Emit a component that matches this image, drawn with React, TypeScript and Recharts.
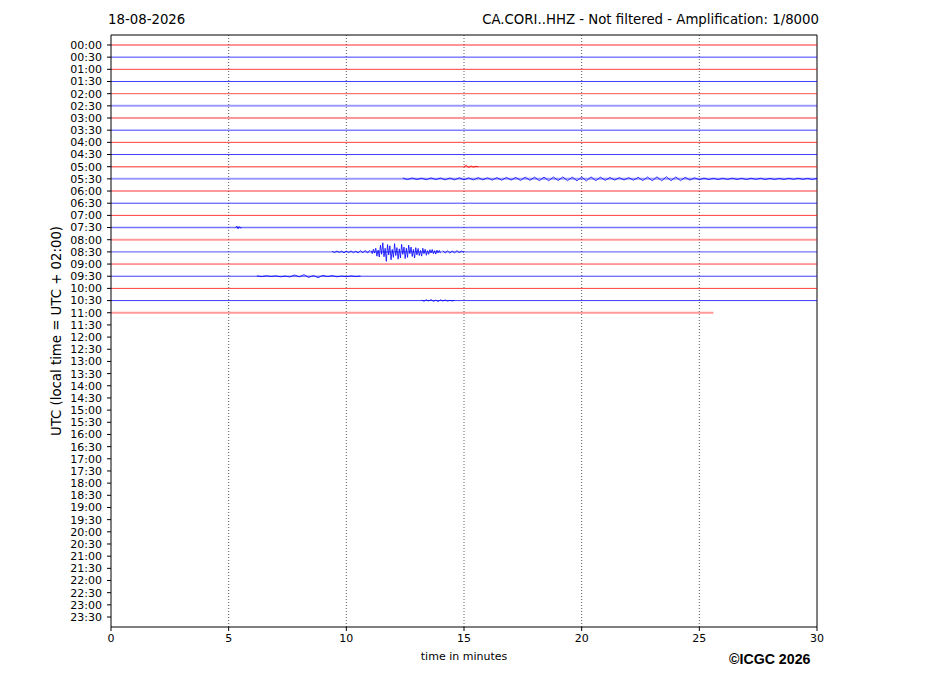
import React from "react";
import { LineChart, Line, XAxis, YAxis, ReferenceLine } from "recharts";

// half-hour row labels (one trace per row)
const rowLabels = [
  "00:00", "00:30", "01:00", "01:30", "02:00", "02:30", "03:00", "03:30",
  "04:00", "04:30", "05:00", "05:30", "06:00", "06:30", "07:00", "07:30",
  "08:00", "08:30", "09:00", "09:30", "10:00", "10:30", "11:00", "11:30",
  "12:00", "12:30", "13:00", "13:30", "14:00", "14:30", "15:00", "15:30",
  "16:00", "16:30", "17:00", "17:30", "18:00", "18:30", "19:00", "19:30",
  "20:00", "20:30", "21:00", "21:30", "22:00", "22:30", "23:00", "23:30",
];
const minuteTicks = [0, 5, 10, 15, 20, 25, 30];

// minute at which each recorded row stops (rows 0..22 have data)
const traceEnds = [
  30, 30, 30, 30, 30, 30, 30, 30, 30, 30, 30, 30,
  30, 30, 30, 30, 30, 30, 30, 30, 30, 30, 25.6,
];
// background noise level per row: 0 quiet, 1 light, 2 noisy
const traceNoise = [1, 0, 0, 0, 1, 2, 1, 0, 0, 0, 1, 2, 2, 0, 0, 1, 2, 1, 0, 0, 0, 0, 2];

// event wiggles, amplitudes in row units (1 row = 30 min trace spacing)
const quake0830Pre = [0.05, -0.06, 0.07, -0.05, 0.06, -0.08, 0.07, -0.06, 0.08, -0.07, 0.06, -0.09, 0.1, -0.08, 0.12, -0.1, 0.14];
const quake0830Main = [
  0.1, -0.14, 0.22, -0.1, 0.3, -0.35, 0.15, -0.42, 0.55, -0.2,
  0.75, -0.4, 0.3, -0.78, 0.6, -0.25, 0.5, -0.65, 0.2, -0.45,
  0.68, -0.3, 0.35, -0.6, 0.25, -0.5, 0.62, -0.2, 0.4, -0.55,
  0.3, -0.45, 0.55, -0.15, 0.4, -0.38, 0.2, -0.5, 0.35, -0.25,
  0.28, -0.3, 0.12, -0.35, 0.3, -0.15, 0.22, -0.28, 0.1, -0.2,
  0.18, -0.08, 0.2, -0.15, 0.1, -0.18, 0.14, -0.08, 0.12, -0.1,
];
const quake0830Tail = [0.1, -0.09, 0.08, -0.1, 0.07, -0.08, 0.1, -0.06, 0.07, -0.05];
const event0930 = [0.03, -0.03, 0.04, -0.02, 0.03, -0.05, 0.02, -0.06, 0.1, -0.05, 0.13, -0.1, 0.06, -0.12, 0.07, -0.03, 0.05, -0.05, 0.02, -0.04, 0.03, -0.02, 0.02];
const event1030 = [0.03, -0.05, 0.06, -0.03, 0.08, -0.06, 0.04, -0.08, 0.06, -0.03, 0.05, -0.04, 0.02, -0.03, 0.02];
const spike0730 = [0, 0.12, -0.1, 0.08, -0.04, 0];
const blip0500 = [0, 0.12, -0.08, 0.06, -0.04, 0.03, 0];
const swell0530 = [
  0.06, -0.06, 0.07, -0.05, 0.06, -0.07, 0.08, -0.06, 0.07,
  -0.08, 0.07, -0.08, 0.09, -0.08, 0.08, -0.09, 0.1, -0.08, 0.09,
  -0.1, 0.1, -0.11, 0.12, -0.1, 0.12, -0.13, 0.14, -0.12, 0.14,
  -0.15, 0.14, -0.16, 0.15, -0.14, 0.16, -0.15, 0.14, -0.16, 0.15,
  -0.17, 0.16, -0.15, 0.14, -0.12, 0.11, -0.1, 0.1, -0.09, 0.1,
  -0.11, 0.12, -0.14, 0.15, -0.16, 0.17, -0.16, 0.17, -0.15, 0.16,
  -0.15, 0.13, -0.1, 0.08, -0.07, 0.06, -0.06, 0.05, -0.06, 0.05,
  -0.05, 0.06, -0.05, 0.05, -0.06, 0.05, -0.04, 0.05, -0.05, 0.04,
  -0.05, 0.04, -0.05, 0.05, -0.04, 0.05, -0.04, 0.04, -0.05, 0.04,
];

const events = [
  { row: 17, start: 9.4, step: 0.1, values: quake0830Pre },
  { row: 17, start: 11.05, step: 0.05, values: quake0830Main },
  { row: 17, start: 14.1, step: 0.1, values: quake0830Tail },
  { row: 19, start: 6.2, step: 0.2, values: event0930 },
  { row: 21, start: 13.2, step: 0.1, values: event1030 },
  { row: 15, start: 5.3, step: 0.05, values: spike0730 },
  { row: 10, start: 15.0, step: 0.1, values: blip0500 },
  { row: 11, start: 12.4, step: 0.2, values: swell0530 },
];

const rowColor = (i: number) => (i % 2 === 0 ? "#ff0000" : "#0000ff");
const noiseWidth = [0.9, 1.4, 2];
const noiseOpacity = [0.85, 0.55, 0.4];

const font = "'DejaVu Sans', sans-serif";

export default function App() {
  return (
    <div style={{ position: "absolute", left: 0, top: 0, width: 927, height: 696, background: "#fff", fontFamily: font }}>
      <LineChart width={927} height={696} margin={{ top: 35, right: 110, bottom: 39, left: 0 }}>
        <XAxis
          type="number"
          dataKey="t"
          domain={[0, 30]}
          ticks={minuteTicks}
          allowDataOverflow
          height={30}
          tickSize={4}
          tickMargin={3}
          stroke="#000"
          tick={{ fontSize: 11, fill: "#000", fontFamily: font }}
        />
        <YAxis
          type="number"
          dataKey="y"
          reversed
          domain={[-0.82, 47.82]}
          ticks={rowLabels.map((_, i) => i)}
          tickFormatter={(v: number) => rowLabels[v] ?? ""}
          interval={0}
          allowDataOverflow
          width={111}
          tickSize={4}
          tickMargin={5}
          stroke="#000"
          tick={{ fontSize: 11, fill: "#000", fontFamily: font }}
        />
        {[5, 10, 15, 20, 25].map((m) => (
          <ReferenceLine key={m} x={m} stroke="#333" strokeWidth={0.8} strokeDasharray="1 2" />
        ))}
        <ReferenceLine y={-0.82} stroke="#000" strokeWidth={1} />
        <ReferenceLine x={30} stroke="#000" strokeWidth={1} />
        {traceEnds.map((end, i) => (
          <Line
            key={"r" + i}
            data={[{ t: 0, y: i }, { t: end, y: i }]}
            dataKey="y"
            type="linear"
            stroke={rowColor(i)}
            strokeWidth={noiseWidth[traceNoise[i]]}
            strokeOpacity={noiseOpacity[traceNoise[i]]}
            dot={false}
            isAnimationActive={false}
          />
        ))}
        {events.map((ev, k) => (
          <Line
            key={"e" + k}
            data={ev.values.map((v, j) => ({ t: ev.start + j * ev.step, y: ev.row - v }))}
            dataKey="y"
            type="linear"
            stroke={rowColor(ev.row)}
            strokeWidth={0.8}
            dot={false}
            isAnimationActive={false}
          />
        ))}
      </LineChart>
      <div style={{ position: "absolute", left: 108, top: 12, fontSize: 13.3, lineHeight: "16px", color: "#000" }}>18-08-2026</div>
      <div style={{ position: "absolute", right: 108, top: 12, fontSize: 13.3, lineHeight: "16px", color: "#000" }}>
        CA.CORI..HHZ - Not filtered - Amplification: 1/8000
      </div>
      <div style={{ position: "absolute", left: 364, width: 200, textAlign: "center", top: 650, fontSize: 11, lineHeight: "14px", color: "#000" }}>
        time in minutes
      </div>
      <div style={{ position: "absolute", left: 729, top: 651, fontSize: 14.2, lineHeight: "16px", fontWeight: "bold", fontFamily: "'Liberation Sans', Arial, sans-serif", color: "#000" }}>
        ©ICGC 2026
      </div>
      <div
        style={{
          position: "absolute",
          left: 57,
          top: 331,
          transform: "translate(-50%, -50%) rotate(-90deg)",
          whiteSpace: "nowrap",
          fontSize: 13.3,
          lineHeight: "16px",
          color: "#000",
        }}
      >
        UTC (local time = UTC + 02:00)
      </div>
    </div>
  );
}
